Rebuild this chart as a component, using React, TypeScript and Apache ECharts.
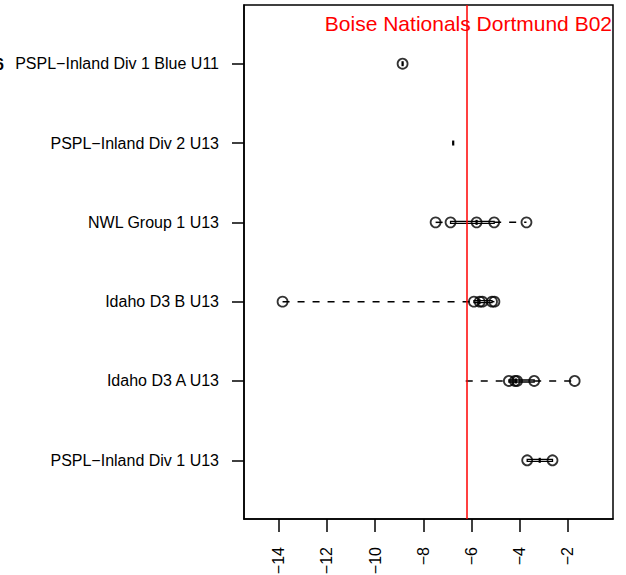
import React, { useEffect, useRef } from "react";
import * as echarts from "echarts";

// categories from bottom (1) to top (6)
const categories = [
  "PSPL\u2212Inland Div 1 U13",
  "Idaho D3 A U13",
  "Idaho D3 B U13",
  "NWL Group 1 U13",
  "PSPL\u2212Inland Div 2 U13",
  "PSPL\u2212Inland Div 1 Blue U11",
];

// box statistics per category
const boxMin = [-3.69, -6.24, -13.84, -7.49, -6.76, -8.86];
const boxQ1 = [-3.69, -4.45, -5.9, -6.87, -6.76, -8.86];
const boxMed = [-3.17, -4.16, -5.67, -5.79, -6.76, -8.86];
const boxQ3 = [-2.64, -3.4, -5.15, -5.06, -6.76, -8.86];
const boxMax = [-2.64, -1.72, -5.05, -3.72, -6.76, -8.86];

// plotted points per category
const points: number[][] = [
  [-3.69, -2.64],
  [-4.45, -4.2, -4.11, -3.4, -1.72],
  [-13.84, -5.9, -5.66, -5.55, -5.15, -5.05],
  [-7.49, -6.87, -5.79, -5.06, -3.72],
  [],
  [-8.86],
];

const xTicks = [-14, -12, -10, -8, -6, -4, -2];
const yTicks = [1, 2, 3, 4, 5, 6];
const refValue = -6.21;
const refLabel = "Boise Nationals Dortmund B02";
const xMin = -15.44;
const xMax = -0.13;
const yMin = 0.26;
const yMax = 6.74;

export default function App() {
  const ref = useRef<HTMLDivElement>(null);
  useEffect(() => {
    const chart = echarts.init(ref.current!, null, { renderer: "svg" });
    const boxData = categories.map((_, i) => [
      i + 1,
      boxMin[i],
      boxQ1[i],
      boxMed[i],
      boxQ3[i],
      boxMax[i],
    ]);
    const scatterData: number[][] = [];
    points.forEach((arr, i) => arr.forEach((v) => scatterData.push([v, i + 1])));
    const font = "Liberation Sans, Arial, Helvetica, sans-serif";

    chart.setOption({
      animation: false,
      grid: {
        left: 244,
        right: 13,
        top: 5,
        bottom: 56,
        show: true,
        borderColor: "#000",
        borderWidth: 1.5,
        backgroundColor: "transparent",
        containLabel: false,
        outerBoundsMode: "none",
      },
      xAxis: {
        type: "value",
        min: xMin,
        max: xMax,
        axisLine: { show: true, onZero: false, lineStyle: { color: "#000", width: 1.5 } },
        axisTick: {
          show: true,
          inside: false,
          length: 13,
          customValues: xTicks,
          lineStyle: { color: "#000", width: 1.5 },
        },
        axisLabel: {
          customValues: xTicks,
          rotate: 90,
          margin: 28,
          fontSize: 16,
          color: "#000",
          fontFamily: font,
          formatter: (v: number) => String(v).replace("-", "\u2212"),
        },
        splitLine: { show: false },
      },
      yAxis: {
        type: "value",
        min: yMin,
        max: yMax,
        axisLine: { show: true, onZero: false, lineStyle: { color: "#000", width: 1.5 } },
        axisTick: {
          show: true,
          inside: false,
          length: 12,
          customValues: yTicks,
          lineStyle: { color: "#000", width: 1.5 },
        },
        axisLabel: {
          customValues: yTicks,
          margin: 25,
          fontSize: 16,
          color: "#000",
          fontFamily: font,
          formatter: (v: number) => categories[Math.round(v) - 1] ?? "",
        },
        splitLine: { show: false },
      },
      series: [
        {
          type: "custom",
          z: 2,
          data: boxData,
          encode: { x: [1, 2, 3, 4, 5], y: 0 },
          renderItem: (params: any, api: any) => {
            const y = api.value(0);
            const pMin = api.coord([api.value(1), y]);
            const pQ1 = api.coord([api.value(2), y]);
            const pMed = api.coord([api.value(3), y]);
            const pQ3 = api.coord([api.value(4), y]);
            const pMax = api.coord([api.value(5), y]);
            const h = 1;
            return {
              type: "group",
              children: [
                {
                  type: "line",
                  shape: { x1: pMin[0], y1: pMin[1], x2: pQ1[0], y2: pQ1[1] },
                  style: { stroke: "#000", lineWidth: 1.5, lineDash: [7, 8] },
                },
                {
                  type: "line",
                  shape: { x1: pQ3[0], y1: pQ3[1], x2: pMax[0], y2: pMax[1] },
                  style: { stroke: "#000", lineWidth: 1.5, lineDash: [7, 8] },
                },
                {
                  type: "rect",
                  shape: {
                    x: pQ1[0],
                    y: pQ1[1] - h,
                    width: pQ3[0] - pQ1[0],
                    height: 2 * h,
                  },
                  style: { fill: "#fff", stroke: "#000", lineWidth: 1.3 },
                },
                {
                  type: "line",
                  shape: { x1: pMed[0], y1: pMed[1] - 2.5, x2: pMed[0], y2: pMed[1] + 2.5 },
                  style: { stroke: "#000", lineWidth: 2.2 },
                },
              ],
            };
          },
        },
        {
          type: "scatter",
          z: 3,
          data: scatterData,
          symbol: "circle",
          symbolSize: 10,
          itemStyle: { color: "rgba(0,0,0,0)", borderColor: "#000", borderWidth: 1.8 },
          emphasis: { disabled: true },
        },
        {
          type: "line",
          z: 10,
          data: [],
          markLine: {
            silent: true,
            symbol: "none",
            animation: false,
            data: [{ xAxis: refValue }],
            lineStyle: { color: "#ff0000", width: 1.5, type: "solid" },
            label: { show: false },
          },
        },
      ],
      graphic: [
        {
          type: "text",
          x: 612,
          y: 23,
          z: 20,
          style: {
            text: refLabel,
            fill: "#ff0000",
            fontSize: 21,
            fontFamily: font,
            align: "right",
            verticalAlign: "middle",
          },
        },
        {
          type: "text",
          x: 4,
          y: 64,
          z: 20,
          style: {
            text: "6",
            fill: "#000",
            fontSize: 16,
            fontWeight: "bold",
            fontFamily: font,
            align: "right",
            verticalAlign: "middle",
          },
        },
      ],
    });
    return () => chart.dispose();
  }, []);
  return (
    <div
      ref={ref}
      style={{ position: "absolute", left: 0, top: 0, width: 626, height: 575 }}
    />
  );
}
